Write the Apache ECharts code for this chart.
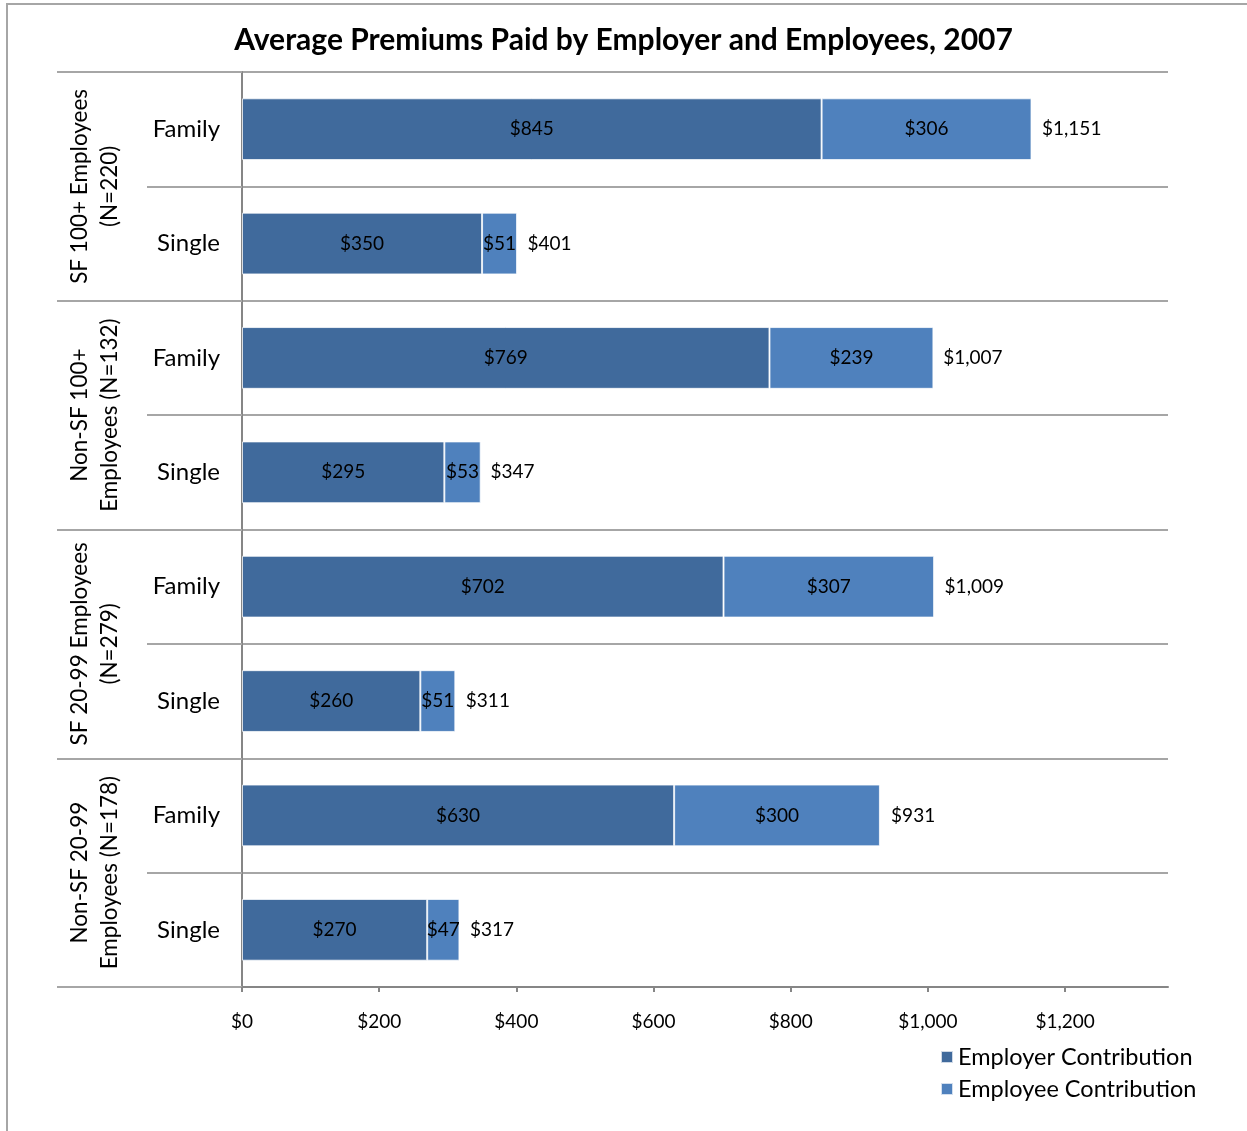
<!DOCTYPE html>
<html>
<head>
<meta charset="utf-8">
<script src="https://cdn.jsdelivr.net/npm/echarts@6/dist/echarts.min.js"></script>
<style>
  html, body { margin: 0; padding: 0; background: #fff; }
  #bar { width: 1247px; height: 1131px; }
</style>
</head>
<body>
<div id="bar"></div>
<script>
var categories = ['Family', 'Single', 'Family', 'Single', 'Family', 'Single', 'Family', 'Single']
var groups = [
    'SF 100+ Employees\n(N=220)',
    'Non-SF 100+\nEmployees (N=132)',
    'SF 20-99 Employees\n(N=279)',
    'Non-SF 20-99\nEmployees (N=178)'
]
var employer = [845, 350, 769, 295, 702, 260, 630, 270]
var employee = [306, 51, 239, 53, 307, 51, 300, 47]
var totals = [1151, 401, 1007, 347, 1009, 311, 931, 317]
var xTicks = [0, 200, 400, 600, 800, 1000, 1200]

var font = 'Lato, "Open Sans", sans-serif'
var money = function (v) {
    return '$' + Number(v).toLocaleString('en-US')
}

var myChart = echarts.init(document.getElementById('bar'))
myChart.setOption({
    backgroundColor: '#fff',
    animation: false,
    textStyle: { fontFamily: font, color: '#000' },
    title: {
        text: 'Average Premiums Paid by Employer and Employees, 2007',
        left: 'center',
        top: 20,
        textStyle: { fontFamily: font, fontSize: 30, fontWeight: 'bold', color: '#000' }
    },
    // outer chart frame (only top/left edges visible in the picture)
    graphic: [{
        type: 'rect',
        shape: { x: 7, y: 4, width: 1400, height: 1300 },
        style: { fill: 'none', stroke: '#a6a6a6', lineWidth: 2 },
        silent: true
    }],
    legend: {
        orient: 'vertical',
        left: 940,
        top: 1045,
        padding: 0,
        itemWidth: 12,
        itemHeight: 12,
        itemGap: 8,
        icon: 'rect',
        textStyle: { fontFamily: font, fontSize: 23.5, color: '#000', lineHeight: 23 },
        data: ['Employer Contribution', 'Employee Contribution']
    },
    grid: { left: 242, right: 79, top: 72, bottom: 144 },
    xAxis: {
        type: 'value',
        min: 0,
        max: 1350,
        interval: 200,
        axisLine: { show: true, lineStyle: { color: '#868686', width: 2 } },
        axisTick: { show: true, length: 5, customValues: xTicks, lineStyle: { color: '#868686', width: 2 } },
        axisLabel: {
            customValues: xTicks,
            margin: 25,
            fontSize: 19,
            color: '#000',
            fontFamily: font,
            formatter: money
        },
        splitLine: { show: false }
    },
    yAxis: [
        {
            type: 'category',
            inverse: true,
            data: categories,
            axisLine: { show: true, lineStyle: { color: '#868686', width: 2 } },
            axisTick: { show: true, length: 95, interval: 0, lineStyle: { color: '#a6a6a6', width: 2 } },
            axisLabel: { margin: 22, fontSize: 24, color: '#000', fontFamily: font, interval: 0 },
            splitLine: { show: true, interval: 0, lineStyle: { color: '#a6a6a6', width: 2 } }
        },
        {
            type: 'category',
            inverse: true,
            position: 'left',
            offset: 0,
            data: groups,
            axisLine: { show: false },
            axisTick: { show: true, length: 185, interval: 0, lineStyle: { color: '#a6a6a6', width: 2 } },
            axisLabel: {
                rotate: 90,
                margin: 117,
                interval: 0,
                fontSize: 22.5,
                lineHeight: 30,
                color: '#000',
                fontFamily: font,
                align: 'center'
            },
            splitLine: { show: false }
        }
    ],
    series: [
        {
            name: 'Employer Contribution',
            type: 'bar',
            stack: 'total',
            barWidth: '54%',
            data: employer,
            itemStyle: { color: '#406a9c', borderColor: 'rgba(255,255,255,0.75)', borderWidth: 1 },
            label: { show: true, position: 'inside', fontSize: 19, color: '#000', fontFamily: font, formatter: function (p) { return money(p.value) } }
        },
        {
            name: 'Employee Contribution',
            type: 'bar',
            stack: 'total',
            barWidth: '54%',
            data: employee,
            itemStyle: { color: '#4f81bd', borderColor: 'rgba(255,255,255,0.75)', borderWidth: 1 },
            label: { show: true, position: 'inside', fontSize: 19, color: '#000', fontFamily: font, formatter: function (p) { return money(p.value) } }
        },
        {
            // totals printed just past each stacked bar
            name: 'Total',
            type: 'scatter',
            symbolSize: 1,
            itemStyle: { color: 'rgba(0,0,0,0)', opacity: 1 },
            data: totals.map(function (t, i) { return [t, i] }),
            label: {
                show: true,
                position: 'right',
                distance: 10,
                fontSize: 19,
                color: '#000',
                fontFamily: font,
                formatter: function (p) { return money(p.value[0]) }
            }
        }
    ]
})
window.addEventListener('resize', function () {
    myChart.resize()
})
</script>
</body>
</html>
